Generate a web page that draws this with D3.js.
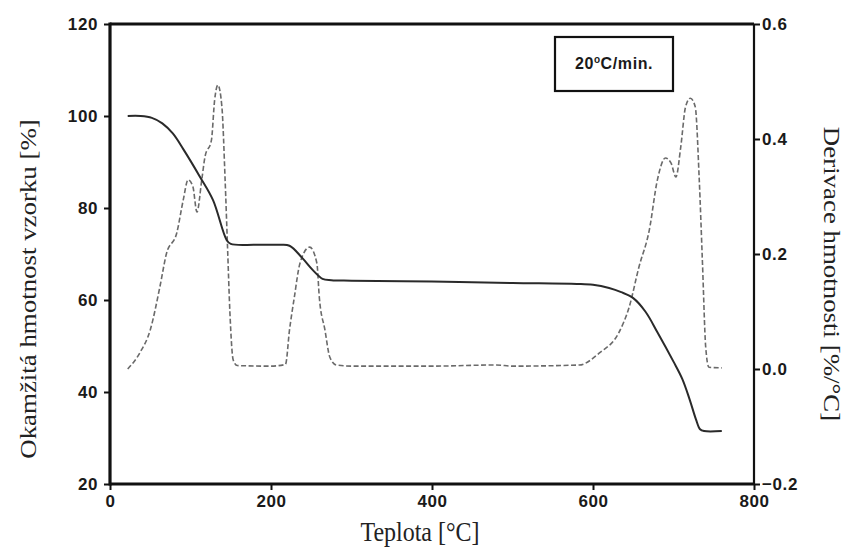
<!DOCTYPE html>
<html>
<head>
<meta charset="utf-8">
<script src="https://cdn.jsdelivr.net/npm/d3@7"></script>
<style>
  html, body { margin: 0; padding: 0; background: #fff; }
  svg { display: block; }
  .tick text { font-family: "Liberation Sans", Arial, sans-serif; font-weight: bold; font-size: 17px; fill: #1a1a1a; }
  .title { font-family: "Liberation Serif", "Times New Roman", serif; font-size: 24px; fill: #222; }
</style>
</head>
<body>
<svg id="chart" width="850" height="549"></svg>
<script>
// ---- data ----
const xTicks = [0, 200, 400, 600, 800];
const yLeftTicks = [20, 40, 60, 80, 100, 120];
const yRightTicks = [-0.2, 0.0, 0.2, 0.4, 0.6];

// TG curve: temperature [°C] and mass [%]
const tgTemp = [22, 38, 52, 65, 78, 91, 112, 128, 145, 150, 180, 210, 223, 239, 252, 264, 275, 300, 400, 500, 580, 600, 620, 635, 650, 665, 680, 700, 711, 720, 728, 733, 738, 760];
const tgMass = [100, 100, 99.6, 98.4, 96.2, 92.8, 86.7, 81.7, 73.0, 72.2, 72.0, 72.0, 71.8, 69.1, 66.5, 64.6, 64.3, 64.2, 64.0, 63.7, 63.5, 63.3, 62.6, 61.7, 60.4, 57.5, 53.0, 46.6, 42.8, 38.4, 34.0, 31.9, 31.5, 31.5];

// DTG curve: temperature [°C] and derivative [%/°C]
const dtgTemp = [22, 37, 50, 62, 70, 83, 91, 97, 103, 108, 114, 118, 126, 130, 134, 139, 143, 146, 149, 153, 158, 200, 218, 223, 229, 236, 248, 257, 260, 267, 273, 281, 300, 400, 480, 500, 583, 608, 632, 645, 657, 670, 680, 690, 697, 703, 709, 715, 721, 727, 732, 736, 740, 744, 760];
const dtgVal = [0.0, 0.028, 0.068, 0.143, 0.20, 0.237, 0.294, 0.329, 0.317, 0.273, 0.329, 0.369, 0.398, 0.468, 0.494, 0.456, 0.329, 0.212, 0.097, 0.016, 0.006, 0.005, 0.008, 0.068, 0.125, 0.184, 0.212, 0.184, 0.125, 0.068, 0.021, 0.007, 0.005, 0.005, 0.007, 0.005, 0.007, 0.028, 0.063, 0.108, 0.177, 0.242, 0.329, 0.367, 0.358, 0.334, 0.386, 0.456, 0.471, 0.456, 0.329, 0.184, 0.038, 0.003, 0.002];

const legendText = "20";
const xTitle = "Teplota [°C]";
const yLeftTitle = "Okamžitá hmotnost vzorku [%]";
const yRightTitle = "Derivace hmotnosti [%/°C]";

// ---- layout ----
const L = 110, R = 754, T = 24, B = 484;
const svg = d3.select("#chart");

const x = d3.scaleLinear().domain([0, 800]).range([L, R]);
const yL = d3.scaleLinear().domain([20, 120]).range([B, T]);
const yR = d3.scaleLinear().domain([-0.2, 0.6]).range([B, T]);

// axes
const gx = svg.append("g").attr("transform", `translate(0,${B})`)
  .call(d3.axisBottom(x).tickValues(xTicks).tickSize(6).tickSizeOuter(0).tickPadding(5).tickFormat(d3.format("d")));
const gyl = svg.append("g").attr("transform", `translate(${L},0)`)
  .call(d3.axisLeft(yL).tickValues(yLeftTicks).tickSize(6).tickSizeOuter(0).tickPadding(6).tickFormat(d3.format("d")));
const gyr = svg.append("g").attr("transform", `translate(${R},0)`)
  .call(d3.axisRight(yR).tickValues(yRightTicks).tickSize(6).tickSizeOuter(0).tickPadding(2).tickFormat(d => d === 0 ? "0.0" : d3.format(".1f")(d)));

[gx, gyl, gyr].forEach(g => {
  g.select(".domain").remove();
  g.selectAll(".tick line").attr("stroke", "#111").attr("stroke-width", 2);
  g.selectAll(".tick text").attr("letter-spacing", "0.6px");
});

// frame
svg.append("line").attr("x1", L).attr("x2", L).attr("y1", T - 1.5).attr("y2", B + 1.5).attr("stroke", "#111").attr("stroke-width", 3.2);
svg.append("line").attr("x1", L).attr("x2", R).attr("y1", B).attr("y2", B).attr("stroke", "#111").attr("stroke-width", 3.2);
svg.append("line").attr("x1", L).attr("x2", R).attr("y1", T).attr("y2", T).attr("stroke", "#111").attr("stroke-width", 3);
svg.append("line").attr("x1", R).attr("x2", R).attr("y1", T).attr("y2", B).attr("stroke", "#111").attr("stroke-width", 2.2);

// curves
const tgLine = d3.line().x((d, i) => x(tgTemp[i])).y(d => yL(d)).curve(d3.curveCatmullRom.alpha(0.5));
const dtgLine = d3.line().x((d, i) => x(dtgTemp[i])).y(d => yR(d)).curve(d3.curveMonotoneX);

svg.append("path").datum(dtgVal).attr("d", dtgLine)
  .attr("fill", "none").attr("stroke", "#6a6a6a").attr("stroke-width", 1.6).attr("stroke-dasharray", "5,2.5");
svg.append("path").datum(tgMass).attr("d", tgLine)
  .attr("fill", "none").attr("stroke", "#2a2a2a").attr("stroke-width", 2);

// legend box
svg.append("rect").attr("x", 555).attr("y", 37).attr("width", 118).attr("height", 54)
  .attr("fill", "#fff").attr("stroke", "#111").attr("stroke-width", 2.2);
const lt = svg.append("text").attr("x", 614).attr("y", 69).attr("text-anchor", "middle")
  .attr("font-family", "Liberation Sans, Arial, sans-serif").attr("font-weight", "bold")
  .attr("font-size", 16).attr("letter-spacing", "0.6px").attr("fill", "#1a1a1a");
lt.append("tspan").text(legendText);
lt.append("tspan").attr("font-size", 10).attr("dy", -6).text("o");
lt.append("tspan").attr("dy", 6).text("C/min.");

// titles
svg.append("text").attr("class", "title").attr("text-anchor", "middle")
  .attr("transform", "translate(420,541) scale(1,1.1)").text(xTitle);
svg.append("text").attr("class", "title").attr("text-anchor", "middle")
  .attr("transform", "translate(36,289) rotate(-90) scale(1.12,1)").text(yLeftTitle);
svg.append("text").attr("class", "title").attr("text-anchor", "middle")
  .attr("transform", "translate(824,274) rotate(90) scale(1.12,1)").text(yRightTitle);
</script>
</body>
</html>
